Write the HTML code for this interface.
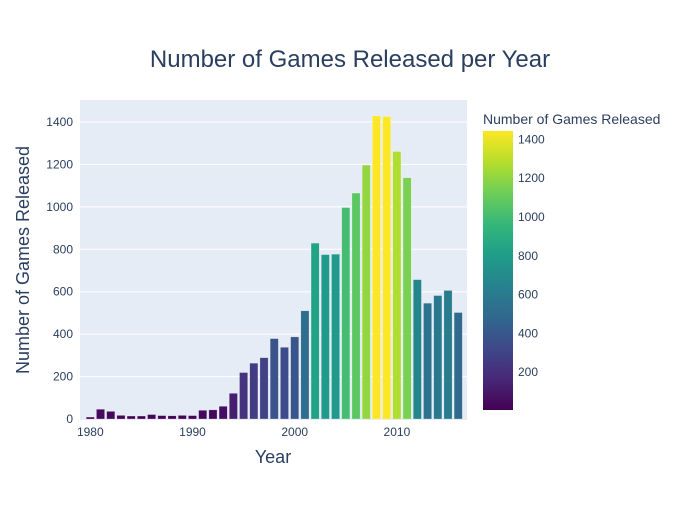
<!DOCTYPE html>
<html><head><meta charset="utf-8"><style>
body{margin:0;background:#fff;font-family:"Liberation Sans",sans-serif}
svg text{font-family:"Liberation Sans",sans-serif;fill:#2a3f5f}
</style></head><body>
<svg id="c" width="700" height="500">
<defs><linearGradient id="vg" x1="0" y1="1" x2="0" y2="0">
<stop offset="0" stop-color="#440154"/><stop offset="0.111" stop-color="#482878"/><stop offset="0.222" stop-color="#3e4989"/><stop offset="0.333" stop-color="#31688e"/><stop offset="0.444" stop-color="#26828e"/><stop offset="0.556" stop-color="#1f9e89"/><stop offset="0.667" stop-color="#35b779"/><stop offset="0.778" stop-color="#6ece58"/><stop offset="0.889" stop-color="#b5de2b"/><stop offset="1" stop-color="#fde725"/>
</linearGradient></defs>
<rect x="80" y="100" width="387" height="320" fill="#e5ecf6"/>
<g id="grid"></g><g id="bars"></g><g id="ax"></g>
<text x="350" y="67" font-size="24" text-anchor="middle">Number of Games Released per Year</text>
<text x="273" y="463" font-size="18" text-anchor="middle">Year</text>
<text transform="translate(29,260) rotate(-90)" font-size="18" text-anchor="middle">Number of Games Released</text>
<text x="483" y="124" font-size="14">Number of Games Released</text>
<rect x="483" y="131" width="30" height="279" fill="url(#vg)"/>
<g id="cb"></g>
</svg>
<script>
const years=[1980,1981,1982,1983,1984,1985,1986,1987,1988,1989,1990,1991,1992,1993,1994,1995,1996,1997,1998,1999,2000,2001,2002,2003,2004,2005,2006,2007,2008,2009,2010,2011,2012,2013,2014,2015,2016];
const counts=[9,46,36,17,14,14,21,16,15,17,16,41,43,60,121,219,263,289,379,338,387,510,829,775,777,997,1065,1197,1429,1426,1261,1137,657,546,582,606,502];
const yTicks=[0,200,400,600,800,1000,1200,1400];
const xTicks=[1980,1990,2000,2010];
const cbTicks=[200,400,600,800,1000,1200,1400];
const NS="http://www.w3.org/2000/svg";
const X=y=>90.3+(y-1980)*10.22;
const Y=v=>419-v*297/1400;
const cmin=Math.min(...counts),cmax=Math.max(...counts);
const vir=["#440154","#482878","#3e4989","#31688e","#26828e","#1f9e89","#35b779","#6ece58","#b5de2b","#fde725"];
function hx(c){return [1,3,5].map(i=>parseInt(c.substr(i,2),16));}
function col(v){let t=(v-cmin)/(cmax-cmin)*9;let i=Math.min(8,Math.floor(t)),f=t-i;let a=hx(vir[i]),b=hx(vir[i+1]);return "rgb("+a.map((x,k)=>Math.round(x+(b[k]-x)*f)).join(",")+")";}
function mk(tag,at,txt){const e=document.createElementNS(NS,tag);for(const k in at)e.setAttribute(k,at[k]);if(txt!=null)e.textContent=txt;return e;}
const g=document.getElementById('grid'),bs=document.getElementById('bars'),ax=document.getElementById('ax'),cb=document.getElementById('cb');
yTicks.forEach(v=>{if(v>0){const l=mk('line',{x1:80,x2:467,y1:Y(v),y2:Y(v),stroke:'#fff','stroke-width':1});

g.appendChild(l);}
const t=mk('text',{x:73,y:Y(v)+4,'font-size':12,'text-anchor':'end'},v);

ax.appendChild(t);});
xTicks.forEach(v=>{const t=mk('text',{x:X(v),y:436,'font-size':12,'text-anchor':'middle'},v);

ax.appendChild(t);});
years.forEach((yr,i)=>{const w=8.2;const r=mk('rect',{x:X(yr)-w/2,y:Y(counts[i]),width:w,height:419-Y(counts[i]),fill:col(counts[i]),stroke:'rgba(255,255,255,0.5)','stroke-width':0.5});

bs.appendChild(r);});
cbTicks.forEach(v=>{const y=411-v*0.194;const t=mk('text',{x:518,y:y+4,'font-size':12},v);

cb.appendChild(t);});
</script>
</body></html>
